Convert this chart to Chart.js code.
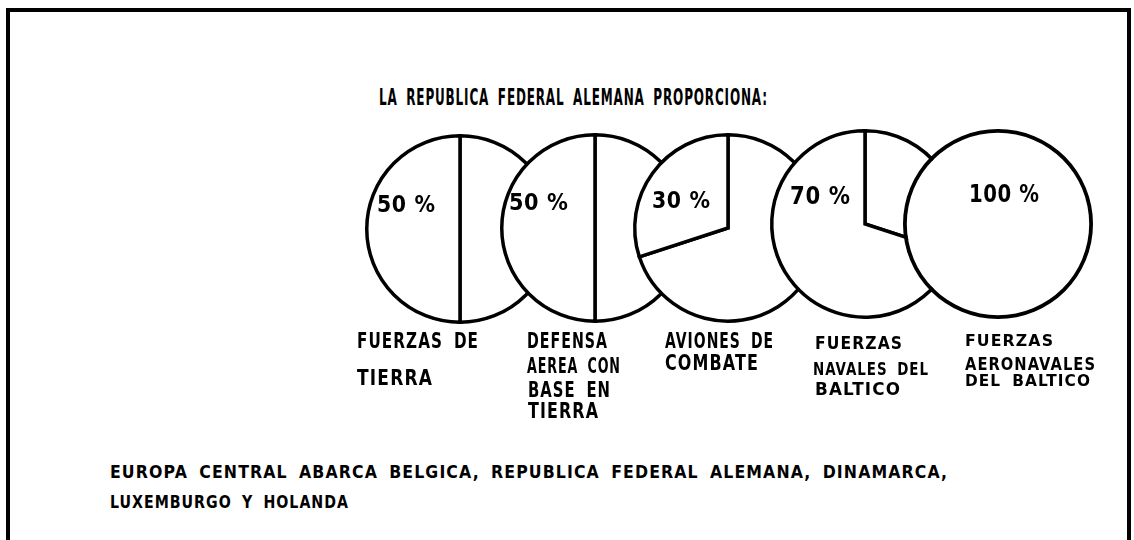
<!DOCTYPE html>
<html><head><meta charset="utf-8">
<script src="https://cdn.jsdelivr.net/npm/chart.js@4.4.1/dist/chart.umd.min.js"></script>
<style>
html,body{margin:0;padding:0;background:#fff;width:1134px;height:540px;overflow:hidden;position:relative;}
#frame{position:absolute;left:6px;top:8px;width:1125px;height:620px;border:4px solid #000;box-sizing:border-box;}
.t{position:absolute;white-space:nowrap;font-family:"DejaVu Sans",sans-serif;font-weight:bold;color:#000;line-height:1;transform-origin:0 0;display:inline-block;letter-spacing:0.07em;word-spacing:0.3em;}
.t.pct{letter-spacing:0.03em;word-spacing:0;}
.pie{position:absolute;}
</style></head><body>
<div id="frame"></div>
<div id="stage"></div>
<script>
// ---- data ----
const title = "LA REPUBLICA FEDERAL ALEMANA PROPORCIONA:";
const categories = [
  ["FUERZAS DE", "TIERRA"],
  ["DEFENSA", "AEREA CON", "BASE EN", "TIERRA"],
  ["AVIONES DE", "COMBATE"],
  ["FUERZAS", "NAVALES DEL", "BALTICO"],
  ["FUERZAS", "AERONAVALES", "DEL BALTICO"]
];
const germanShare = [50, 50, 30, 70, 100];
const footnote = [
  "EUROPA CENTRAL ABARCA BELGICA, REPUBLICA FEDERAL ALEMANA, DINAMARCA,",
  "LUXEMBURGO Y HOLANDA"
];

// ---- layout (positions only) ----
const pieCenters = [[460,229],[595,228],[728,228],[865,224],[998,224]];
const PIE_BOX = 200, PIE_PAD = 5;
const titleBox = [379, 88, 388, 17];
const pctBoxes = [[377,195,58,17],[509,193,59,17],[652,191,58,17],[790,187,60,18],[969,185,70,18]];
const labelBoxes = [
  [[357,333,121,16],[357,370,75,15]],
  [[527,333,80,15],[527,358,93,15],[528,382,82,15],[528,403,70,15]],
  [[665,333,108,16],[665,355,93,16]],
  [[815,336,87,13],[813,362,115,13],[815,382,85,13]],
  [[965,335,88,12],[965,357,130,13],[965,375,125,12]]
];
const footBoxes = [[110,465,837,13],[110,495,238,13]];

const stage = document.getElementById('stage');

function placeText(str, box, extraClass){
  const [x, y, w, h] = box;
  const fs = h / 0.729;
  const el = document.createElement('span');
  el.className = 't' + (extraClass ? ' ' + extraClass : '');
  el.textContent = str;
  el.style.fontSize = fs + 'px';
  el.style.left = x + 'px';
  el.style.top = (y - 0.117 * fs) + 'px';
  stage.appendChild(el);
  const ls = parseFloat(getComputedStyle(el).letterSpacing) || 0; // trailing letter-spacing
  const mw = el.getBoundingClientRect().width - ls;
  if (mw > 0) el.style.transform = 'scaleX(' + (w / mw) + ')';
}

function makePie(i){
  const share = germanShare[i];
  const full = share >= 100;
  const [cx, cy] = pieCenters[i];
  const div = document.createElement('div');
  div.className = 'pie';
  div.style.left = (cx - PIE_BOX/2) + 'px';
  div.style.top = (cy - PIE_BOX/2) + 'px';
  div.style.width = PIE_BOX + 'px';
  div.style.height = PIE_BOX + 'px';
  const cv = document.createElement('canvas');
  cv.width = PIE_BOX; cv.height = PIE_BOX;
  cv.style.width = PIE_BOX + 'px'; cv.style.height = PIE_BOX + 'px';
  div.appendChild(cv);
  stage.appendChild(div);
  const datasets = [];
  if (full) {
    datasets.push({ label: 'contorno', data: [100], backgroundColor: '#000', borderWidth: 0, weight: 1 });
  }
  datasets.push({
    label: categories[i].join(' '),
    data: [100 - share, share],
    backgroundColor: '#fff',
    borderColor: '#000',
    borderWidth: full ? 0 : 3.5,
    borderJoinStyle: 'miter',
    weight: full ? 24 : 1
  });
  new Chart(cv, {
    type: 'pie',
    data: { labels: ['Resto', 'RFA'], datasets },
    options: {
      responsive: false,
      devicePixelRatio: 1,
      animation: false,
      events: [],
      layout: { padding: PIE_PAD },
      plugins: { legend: { display: false }, tooltip: { enabled: false } }
    }
  });
}

for (let i = 0; i < germanShare.length; i++) makePie(i);

placeText(title, titleBox);
germanShare.forEach((v, i) => placeText(v + ' %', pctBoxes[i], 'pct'));
categories.forEach((lines, i) => lines.forEach((ln, j) => placeText(ln, labelBoxes[i][j])));
footnote.forEach((ln, i) => placeText(ln, footBoxes[i]));
</script>
</body></html>
